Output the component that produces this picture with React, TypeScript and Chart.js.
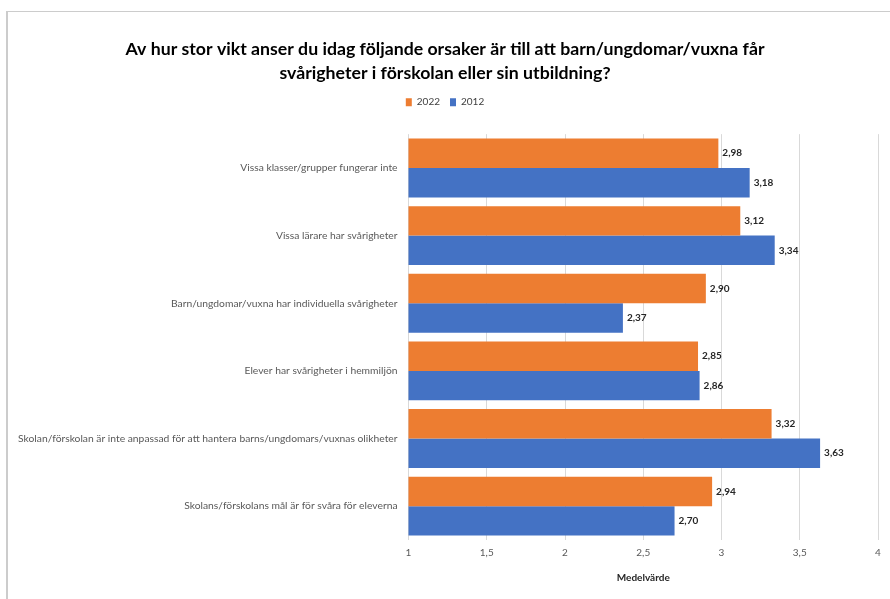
import React, { useEffect, useRef } from "react";
import { Chart, registerables } from "chart.js";

Chart.register(...registerables);

const categories = [
  "Vissa klasser/grupper fungerar inte",
  "Vissa lärare har svårigheter",
  "Barn/ungdomar/vuxna har individuella svårigheter",
  "Elever har svårigheter i hemmiljön",
  "Skolan/förskolan är inte anpassad för att hantera barns/ungdomars/vuxnas olikheter",
  "Skolans/förskolans mål är för svåra för eleverna",
];
const values2022 = [2.98, 3.12, 2.9, 2.85, 3.32, 2.94];
const values2012 = [3.18, 3.34, 2.37, 2.86, 3.63, 2.7];
const seriesLabels = ["2022", "2012"];
const titleLines = [
  "Av hur stor vikt anser du idag följande orsaker är till att barn/ungdomar/vuxna får",
  "svårigheter i förskolan eller sin utbildning?",
];
const axisTitle = "Medelvärde";

const FONT = "Lato, 'Open Sans', sans-serif";

const fmt = (v: number, d?: number) =>
  (d !== undefined ? v.toFixed(d) : String(v)).replace(".", ",");

const framePlugin = {
  id: "frame",
  beforeDraw(chart: any) {
    const ctx = chart.ctx;
    ctx.save();
    ctx.fillStyle = "#ffffff";
    ctx.fillRect(0, 0, chart.width, chart.height);
    ctx.fillStyle = "#cccccc";
    ctx.fillRect(6, 11, 2, chart.height - 11);
    ctx.fillRect(6, 11, chart.width - 6, 1);
    ctx.restore();
  },
};

const legendGapPlugin = {
  id: "legendGap",
  afterInit(chart: any) {
    const lg = chart.legend;
    if (lg && !lg.__gap) {
      const f = lg.fit.bind(lg);
      lg.fit = () => {
        f();
        lg.height += 17;
      };
      lg.__gap = true;
    }
  },
};

const valueLabelPlugin = {
  id: "valueLabels",
  afterDatasetsDraw(chart: any) {
    const ctx = chart.ctx;
    ctx.save();
    ctx.font = `bold 10px ${FONT}`;
    ctx.fillStyle = "#262626";
    ctx.textAlign = "left";
    ctx.textBaseline = "middle";
    chart.data.datasets.forEach((ds: any, i: number) => {
      const meta = chart.getDatasetMeta(i);
      meta.data.forEach((bar: any, j: number) => {
        ctx.fillText(fmt(ds.data[j], 2), bar.x + 4, bar.y);
      });
    });
    ctx.restore();
  },
};

export default function App() {
  const ref = useRef<HTMLCanvasElement>(null);
  useEffect(() => {
    document.body.style.margin = "0";
    const chart = new Chart(ref.current!, {
      type: "bar",
      data: {
        labels: categories,
        datasets: [
          {
            label: seriesLabels[0],
            data: values2022,
            backgroundColor: "#ED7D31",
            categoryPercentage: 0.87,
            barPercentage: 1,
          },
          {
            label: seriesLabels[1],
            data: values2012,
            backgroundColor: "#4472C4",
            categoryPercentage: 0.87,
            barPercentage: 1,
          },
        ],
      },
      options: {
        indexAxis: "y",
        animation: false,
        responsive: false,
        maintainAspectRatio: false,
        layout: { padding: { left: 12, right: 12, top: 0, bottom: 15 } },
        plugins: {
          title: {
            display: true,
            text: titleLines,
            color: "#000000",
            font: { family: FONT, size: 17.7, weight: "bold", lineHeight: 1.36 },
            padding: { top: 37, bottom: 2 },
          },
          legend: {
            display: true,
            position: "top",
            labels: {
              boxWidth: 6,
              boxHeight: 8,
              padding: 10,
              color: "#404040",
              font: { family: FONT, size: 10 },
            },
          },
          tooltip: { enabled: false },
        },
        scales: {
          x: {
            min: 1,
            max: 4,
            ticks: {
              stepSize: 0.5,
              padding: 7,
              color: "#595959",
              font: { family: FONT, size: 10 },
              callback: (v: any) => fmt(Number(v)),
            },
            grid: { color: "#d9d9d9", drawTicks: false },
            border: { display: false },
            title: {
              display: true,
              text: axisTitle,
              color: "#262626",
              font: { family: FONT, size: 10, weight: "bold" },
              padding: { top: 6, bottom: 0 },
            },
          },
          y: {
            grid: { display: false, drawTicks: false },
            border: { display: false },
            ticks: {
              padding: 11,
              color: "#595959",
              font: { family: FONT, size: 10.3 },
            },
            afterFit: (scale: any) => {
              scale.width = 396.5;
            },
          },
        },
      },
      plugins: [framePlugin, legendGapPlugin, valueLabelPlugin],
    });
    return () => chart.destroy();
  }, []);
  return (
    <div style={{ width: 890, height: 599 }}>
      <canvas ref={ref} width={890} height={599} style={{ display: "block" }} />
    </div>
  );
}
